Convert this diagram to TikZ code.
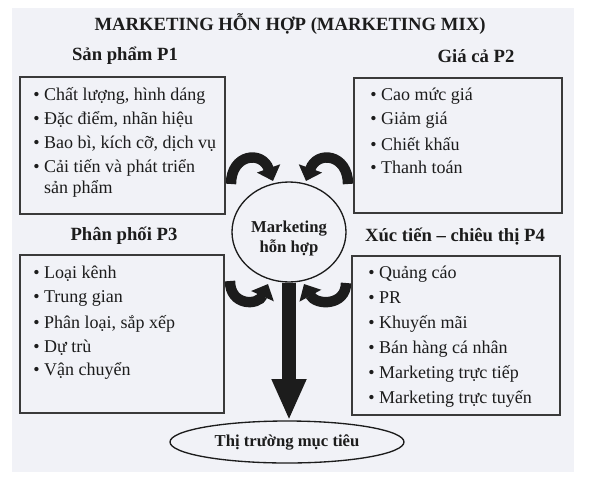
\documentclass[tikz,border=0pt]{standalone}
\usepackage{fontspec}
\setmainfont{Liberation Serif}
\usetikzlibrary{shapes.geometric,arrows.meta}
\definecolor{bgc}{HTML}{F1F2F7}
\definecolor{ink}{HTML}{1C1C1C}
\definecolor{boxline}{HTML}{3A3A3A}
\begin{document}
\begin{tikzpicture}[x=0.75pt,y=-0.75pt,
  itemtxt/.style={anchor=base west, inner sep=0, font=\fontsize{13.5}{18}\selectfont, text=ink},
  headtxt/.style={font=\fontsize{14}{17}\selectfont\bfseries, text=ink, inner sep=0},
  boxnode/.style={draw=boxline, line width=1.1pt, rectangle, inner sep=0},
  bigarc/.style={line width=7.8pt, draw=ink, -{Triangle[width=18pt,length=10pt]}},
  mainarrow/.style={line width=11pt, draw=ink, -{Triangle[width=24pt,length=31pt]}}
]
\useasboundingbox (0,0) rectangle (607,486);
\fill[bgc] (12,8) rectangle (574,472);

% title and headings
\node[headtxt] (title) at (290,24) {MARKETING HỖN HỢP (MARKETING MIX)};
\node[headtxt] (h1) at (125,56) {Sản phẩm P1};
\node[headtxt] (h2) at (476,56) {Giá cả P2};
\node[headtxt] (h3) at (124,236) {Phân phối P3};
\node[headtxt] (h4) at (455,237) {Xúc tiến – chiêu thị P4};

% boxes
\node[boxnode, minimum width=205*0.75pt, minimum height=137*0.75pt] (p1) at (122.5,145.5) {};
\node[boxnode, minimum width=208*0.75pt, minimum height=135*0.75pt] (p2) at (458,145.5) {};
\node[boxnode, minimum width=204*0.75pt, minimum height=158*0.75pt] (p3) at (122,334) {};
\node[boxnode, minimum width=208*0.75pt, minimum height=159*0.75pt] (p4) at (456,335.5) {};

% P1 items
\node[itemtxt] (p1a) at (33,100) {• Chất lượng, hình dáng};
\node[itemtxt] (p1b) at (33,124) {• Đặc điểm, nhãn hiệu};
\node[itemtxt] (p1c) at (33,148) {• Bao bì, kích cỡ, dịch vụ};
\node[itemtxt] (p1d) at (33,172) {• Cải tiến và phát triển};
\node[itemtxt] (p1e) at (33,193) {\phantom{• }sản phẩm};

% P2 items
\node[itemtxt] (p2a) at (370,100) {• Cao mức giá};
\node[itemtxt] (p2b) at (370,124) {• Giảm giá};
\node[itemtxt] (p2c) at (370,150) {• Chiết khấu};
\node[itemtxt] (p2d) at (370,173) {• Thanh toán};

% P3 items
\node[itemtxt] (p3a) at (33,278) {• Loại kênh};
\node[itemtxt] (p3b) at (33,302) {• Trung gian};
\node[itemtxt] (p3c) at (33,328) {• Phân loại, sắp xếp};
\node[itemtxt] (p3d) at (33,352) {• Dự trù};
\node[itemtxt] (p3e) at (33,375) {• Vận chuyển};

% P4 items
\node[itemtxt] (p4a) at (368,278) {• Quảng cáo};
\node[itemtxt] (p4b) at (368,303) {• PR};
\node[itemtxt] (p4c) at (368,328) {• Khuyến mãi};
\node[itemtxt] (p4d) at (368,353) {• Bán hàng cá nhân};
\node[itemtxt] (p4e) at (368,378) {• Marketing trực tiếp};
\node[itemtxt] (p4f) at (368,403) {• Marketing trực tuyến};

% centre circle
\node[ellipse, draw=ink, line width=1pt, minimum width=114*0.75pt, minimum height=100*0.75pt, inner sep=0] (circ) at (289,232) {};
\node[align=center, inner sep=0, text=ink, font=\fontsize{12.5}{15}\selectfont\bfseries] (circtext) at (289,238) {Marketing\\hỗn hợp};

% target market ellipse
\node[ellipse, draw=ink, line width=1pt, minimum width=234*0.75pt, minimum height=42*0.75pt, inner sep=0, text=ink, font=\fontsize{12.5}{15}\selectfont\bfseries] (ell) at (287,442) {Thị trường mục tiêu};

% curved arrows
\coordinate (a1s) at (231,184);
\coordinate (a1e) at (273,181);
\coordinate (a2s) at (348,184);
\coordinate (a2e) at (306,181);
\coordinate (a3s) at (230,281);
\coordinate (a3e) at (268,284);
\coordinate (a4s) at (346,283);
\coordinate (a4e) at (304,284);
\draw[bigarc] (a1s) .. controls (231,154) and (262,150) .. (a1e);
\draw[bigarc] (a2s) .. controls (348,154) and (317,150) .. (a2e);
\draw[bigarc] (a3s) .. controls (230,306) and (258,306) .. (a3e);
\draw[bigarc] (a4s) .. controls (346,306) and (316,306) .. (a4e);

% main arrow
\draw[mainarrow] (circ.south) -- (circ.south |- ell.north);
\end{tikzpicture}
\end{document}
